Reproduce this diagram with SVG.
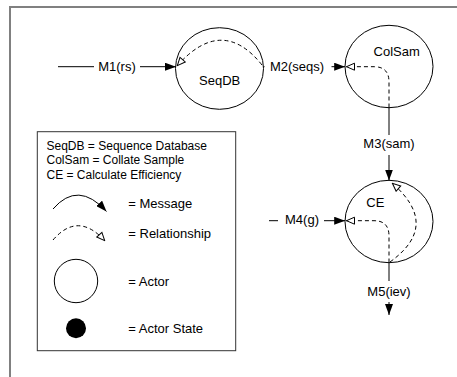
<svg xmlns="http://www.w3.org/2000/svg" width="457" height="377" viewBox="0 0 457 377">
<defs>
<style>
text{font-family:"Liberation Sans",Arial,Helvetica,sans-serif;fill:#000}
.t13{font-size:13px}
.t12{font-size:12px}
.mid{text-anchor:middle}
.actor{fill:#fff;stroke:#000;stroke-width:1}
.msg{fill:none;stroke:#000;stroke-width:1;marker-end:url(#filled)}
.rel{fill:none;stroke:#000;stroke-width:1;stroke-dasharray:4 3;marker-end:url(#open)}
.bg{fill:#fff;stroke:none}
</style>
<marker id="filled" viewBox="0 0 11 8" refX="11" refY="4" markerWidth="11" markerHeight="8" markerUnits="userSpaceOnUse" orient="auto">
<path d="M0,0 L11,4 L0,8 z" fill="#000"/>
</marker>
<marker id="open" viewBox="-1 -1 10 9" refX="8.5" refY="3.5" markerWidth="10" markerHeight="9" markerUnits="userSpaceOnUse" orient="auto">
<path d="M0,0 L8,3.5 L0,7 z" fill="#fff" stroke="#000" stroke-width="1" stroke-dasharray="none"/>
</marker>
</defs>
<rect width="457" height="377" fill="#fff"/>
<path d="M10,377 L10,7 L457,7" fill="none" stroke="#808080" stroke-width="2"/>

<g id="connectors">
<path class="msg" d="M58,66.7 L176,66.7"/>
<path class="msg" d="M263.5,66.7 L345.2,66.7"/>
<path class="msg" d="M389,107.5 L389,180.5"/>
<path class="msg" d="M269,220.7 L345.2,220.7"/>
<path class="msg" d="M389,262.5 L389,315"/>
<path class="rel" d="M262,65 Q222,15 177,66"/>
<path class="rel" d="M389,107.5 L389,82 Q389,66.7 374,66.7 L346,66.7"/>
<path class="rel" d="M389,262.5 L389,236 Q389,220.7 374,220.7 L346,220.7"/>
<path class="rel" d="M390,262 C426,236 423,210 392,183"/>
<rect class="bg" x="94" y="58" width="46" height="18"/>
<rect class="bg" x="264.5" y="58" width="67" height="18"/>
<rect class="bg" x="360" y="135" width="58" height="20"/>
<rect class="bg" x="278" y="212" width="46" height="18"/>
<rect class="bg" x="364" y="281" width="50" height="21"/>
<text class="t13 mid" x="117" y="70.5">M1(rs)</text>
<text class="t13 mid" x="297" y="70.5">M2(seqs)</text>
<text class="t13 mid" x="389" y="148.3">M3(sam)</text>
<text class="t13 mid" x="302" y="224.3">M4(g)</text>
<text class="t13 mid" x="389" y="296">M5(iev)</text>
</g>

<g id="SeqDB">
<ellipse class="actor" cx="219.5" cy="68.5" rx="44" ry="40.8" style="fill:none"/>
<text class="t13 mid" x="219.7" y="84.5">SeqDB</text>
</g>
<g id="ColSam">
<ellipse class="actor" cx="389" cy="66.5" rx="44" ry="41.2" style="fill:none"/>
<text class="t13 mid" x="396.7" y="56">ColSam</text>
</g>
<g id="CE">
<ellipse class="actor" cx="389" cy="221.5" rx="44" ry="41.2" style="fill:none"/>
<text class="t13 mid" x="375.3" y="206.5">CE</text>
</g>

<g id="legend">
<rect x="37.3" y="131.7" width="198.4" height="219" fill="none" stroke="#333" stroke-width="1"/>
<text class="t12" x="46.5" y="149.5">SeqDB = Sequence Database</text>
<text class="t12" x="46.5" y="164">ColSam = Collate Sample</text>
<text class="t12" x="46.5" y="178.5">CE = Calculate Efficiency</text>
<path class="msg" d="M53,209 Q78,180 106.5,211.5"/>
<text class="t13" x="128.3" y="208">= Message</text>
<path class="rel" d="M53,240 Q78,211 105,241"/>
<text class="t13" x="128.3" y="238">= Relationship</text>
<circle class="actor" cx="76" cy="281" r="21.7"/>
<text class="t13" x="128.3" y="286.3">= Actor</text>
<circle cx="76" cy="328.3" r="10" fill="#000"/>
<text class="t13" x="128.3" y="333">= Actor State</text>
</g>
</svg>
